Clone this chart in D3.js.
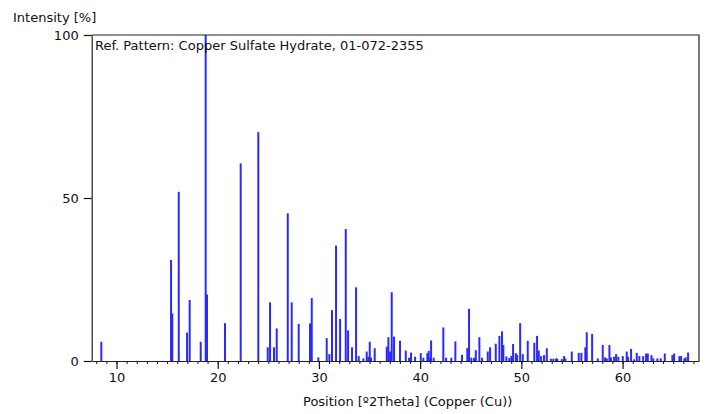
<!DOCTYPE html>
<html>
<head>
<meta charset="utf-8">
<script src="https://cdn.jsdelivr.net/npm/d3@7"></script>
<style>
  html, body { margin: 0; padding: 0; background: #fff; }
  svg { display: block; }
  text { font-family: "DejaVu Sans", sans-serif; font-size: 13px; fill: #111; }
</style>
</head>
<body>
<svg id="chart" width="707" height="414"></svg>
<script>
// Peak positions [°2Theta] and relative intensities [%]
const positions = [
  8.50, 15.39, 15.51, 16.15, 16.97, 17.23, 18.32, 18.81, 18.94, 20.72,
  22.27, 24.01, 24.94, 25.17, 25.56, 25.83, 26.92, 27.31, 28.00, 29.12,
  29.29, 29.94, 30.77, 31.03, 31.29, 31.69, 32.09, 32.65, 32.88, 33.27,
  33.67, 33.93, 34.39, 34.72, 34.88, 35.02, 35.15, 35.51, 36.70, 36.86,
  37.03, 37.19, 37.42, 38.01, 38.58, 38.91, 39.10, 39.50, 40.06, 40.32,
  40.71, 40.85, 40.98, 41.08, 41.34, 42.29, 42.56, 43.08, 43.48, 44.14,
  44.66, 44.83, 45.06, 45.33, 45.50, 45.85, 46.12, 46.68, 46.91, 47.47,
  47.83, 48.09, 48.22, 48.52, 48.81, 49.01, 49.18, 49.45, 49.58, 49.88,
  50.14, 50.63, 51.28, 51.55, 51.72, 51.95, 52.24, 52.51, 52.91, 53.16,
  53.43, 53.56, 53.99, 54.22, 54.35, 54.98, 55.67, 55.93, 56.32, 56.46,
  56.99, 57.55, 58.04, 58.27, 58.44, 58.70, 58.86, 59.16, 59.36, 59.58,
  60.02, 60.41, 60.54, 60.84, 61.14, 61.40, 61.66, 62.03, 62.32, 62.49,
  62.85, 63.04, 63.44, 63.77, 64.17, 64.92, 65.09, 65.61, 65.78, 66.11,
  66.24, 66.47
];
const intensities = [
  5.9, 31.0, 14.6, 51.9, 8.7, 18.7, 5.9, 100, 20.4, 11.6,
  60.6, 70.2, 4.2, 18.0, 4.2, 10.0, 45.3, 18.0, 11.4, 11.5,
  19.3, 1.1, 7.0, 2.1, 15.6, 35.4, 12.9, 40.5, 9.4, 4.2,
  22.6, 1.5, 0.8, 2.9, 1.3, 5.9, 1.0, 3.9, 4.4, 7.3,
  2.9, 21.1, 7.5, 6.2, 3.2, 1.0, 2.6, 1.3, 2.4, 1.0,
  2.4, 3.1, 1.0, 6.3, 1.0, 10.3, 1.0, 1.0, 6.0, 1.9,
  4.0, 16.0, 1.0, 1.0, 3.3, 7.3, 1.0, 2.9, 4.2, 5.3,
  7.7, 9.1, 4.9, 1.4, 0.9, 1.6, 5.2, 2.4, 1.9, 11.6,
  2.1, 6.2, 5.6, 7.7, 3.2, 1.5, 1.8, 3.9, 0.7, 0.7,
  0.8, 0.7, 0.6, 1.5, 0.8, 2.9, 2.5, 2.5, 4.2, 8.8,
  8.3, 0.8, 4.9, 1.1, 0.8, 4.9, 1.1, 1.3, 2.1, 1.3,
  1.5, 2.9, 1.3, 3.7, 0.5, 2.5, 1.5, 1.5, 2.3, 2.3,
  1.8, 0.8, 0.8, 0.8, 2.3, 1.8, 2.3, 1.5, 1.5, 0.8,
  1.1, 2.6
];
const xTickValues = [10, 20, 30, 40, 50, 60];
const xMinorTicks = d3.range(8, 68, 1);
const yTickValues = [0, 50, 100];
const yLabel = "Intensity [%]";
const xLabel = "Position [º2Theta] (Copper (Cu))";
const patternLabel = "Ref. Pattern: Copper Sulfate Hydrate, 01-072-2355";

const svg = d3.select("#chart");
const mLeft = 91.7, mRight = 699, mTop = 35, mBottom = 361;

const x = d3.scaleLinear().domain([7.55, 67.55]).range([mLeft, mRight]);
const y = d3.scaleLinear().domain([0, 100]).range([mBottom, mTop]);

// sticks
svg.append("g")
  .selectAll("line")
  .data(positions.map((p, i) => ({p, v: intensities[i]})))
  .join("line")
  .attr("x1", d => x(d.p)).attr("x2", d => x(d.p))
  .attr("y1", y(0)).attr("y2", d => y(d.v))
  .attr("stroke", "#2a2aff")
  .attr("stroke-width", 2);

// frame top & right
svg.append("path")
  .attr("d", `M${mLeft},${mTop}H${mRight}V${mBottom}`)
  .attr("fill", "none").attr("stroke", "#222").attr("stroke-width", 1.2);

// x axis minor ticks
const gx = svg.append("g").attr("transform", `translate(0,${mBottom})`);
gx.call(d3.axisBottom(x).tickValues(xMinorTicks).tickSize(3).tickFormat(""))
  .call(g => g.select(".domain").remove());
gx.selectAll(".tick line").attr("stroke", "#111");
// x axis major
const gx2 = svg.append("g").attr("transform", `translate(0,${mBottom})`);
gx2.call(d3.axisBottom(x).tickValues(xTickValues).tickSize(8).tickSizeOuter(0).tickPadding(4).tickFormat(d3.format("d")));
gx2.select(".domain").attr("stroke", "#222").attr("stroke-width", 1.2);
gx2.selectAll(".tick line").attr("stroke", "#111").attr("stroke-width", 1.2);
gx2.selectAll(".tick text").attr("font-family", "DejaVu Sans").attr("font-size", 13).attr("fill", "#111");

// y axis
const gy = svg.append("g").attr("transform", `translate(${mLeft},0)`);
gy.call(d3.axisLeft(y).tickValues(yTickValues).tickSize(8).tickSizeOuter(0).tickPadding(5).tickFormat(d3.format("d")));
gy.select(".domain").attr("stroke", "#222").attr("stroke-width", 1.2);
gy.selectAll(".tick line").attr("stroke", "#111").attr("stroke-width", 1.2);
gy.selectAll(".tick text").attr("font-family", "DejaVu Sans").attr("font-size", 13).attr("fill", "#111");

// labels
svg.append("text").attr("x", 13).attr("y", 22).text(yLabel);
svg.append("text").attr("x", 303).attr("y", 406).text(xLabel);
svg.append("text").attr("x", 95).attr("y", 50).text(patternLabel);
</script>
</body>
</html>
